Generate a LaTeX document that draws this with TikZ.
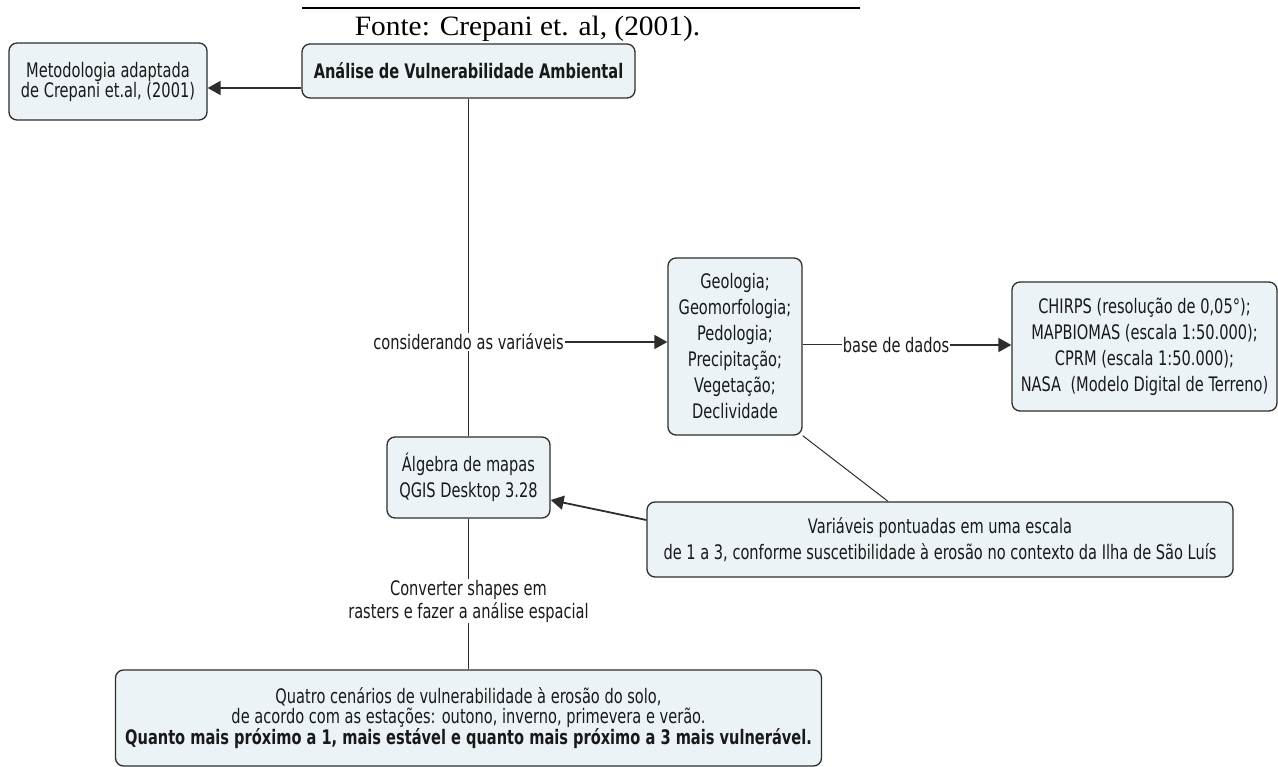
\documentclass[tikz,border=0pt]{standalone}
\usepackage{fontspec}
\setmainfont{DejaVu Sans}[FakeStretch=0.73]
\newfontfamily\fontefont{Liberation Serif}[FakeStretch=1.05]
\usepackage{tikz}
\usetikzlibrary{arrows.meta,positioning}
\definecolor{cmapfill}{RGB}{236,243,246}
\definecolor{cmapline}{RGB}{45,45,45}
\definecolor{cmaptext}{RGB}{25,25,25}

\begin{document}
\begin{tikzpicture}[
    x=1pt, y=-1pt,
    concept/.style={rectangle, draw=cmapline, line width=1.3pt, fill=cmapfill, rounded corners=8pt, align=center, inner sep=0pt, text=cmaptext, font=\fontsize{20}{26}\selectfont},
    tight/.style={font=\fontsize{20}{20}\selectfont},
    linkname/.style={align=center, inner sep=1pt, text=cmaptext, font=\fontsize{20}{23}\selectfont},
    arrow/.style={-{Triangle[length=13pt,width=14pt]}, line width=1.8pt, draw=cmapline},
    link/.style={line width=1pt, draw=cmapline}
]
\useasboundingbox (0,0) rectangle (1278,767);

% Source line
\draw[line width=1.5pt] (302,8) -- (860,8);
\node[anchor=base, inner sep=0pt, font=\fontefont\fontsize{28}{30}\selectfont] (fonte) at (527.5,36) {Fonte: Crepani et. al, (2001).};

% Concepts
\node[concept, tight, minimum width=198pt, minimum height=77pt] (meto) at (108,81.5) {Metodologia adaptada\\de Crepani et.al, (2001)};
\node[concept, minimum width=333pt, minimum height=54pt, font=\fontsize{20}{26}\selectfont\bfseries] (anal) at (468.5,71) {Análise de Vulnerabilidade Ambiental};
\node[concept, minimum width=134pt, minimum height=177pt] (geo) at (735,346.5) {Geologia;\\Geomorfologia;\\Pedologia;\\Precipitação;\\Vegetação;\\Declividade};
\node[concept, minimum width=265pt, minimum height=129pt] (chirps) at (1144.5,346.5) {CHIRPS (resolução de 0,05°);\\MAPBIOMAS (escala 1:50.000);\\CPRM (escala 1:50.000);\\NASA\ \ (Modelo Digital de Terreno)};
\node[concept, minimum width=163pt, minimum height=81pt] (alg) at (468.5,477.5) {Álgebra de mapas\\QGIS Desktop 3.28};
\node[concept, minimum width=586pt, minimum height=75pt] (var) at (940,539.5) {Variáveis pontuadas em uma escala\\de 1 a 3, conforme suscetibilidade à erosão no contexto da Ilha de São Luís};
\node[concept, tight, minimum width=706pt, minimum height=96pt] (quatro) at (468.5,718) {Quatro cenários de vulnerabilidade à erosão do solo,\\de acordo com as estações: outono, inverno, primevera e verão.\\\textbf{Quanto mais próximo a 1, mais estável e quanto mais próximo a 3 mais vulnerável.}};

% Linking phrases
\node[linkname] (cons) at (468.5,342) {considerando as variáveis};
\node[linkname] (base) at (896,345) {base de dados};
\node[linkname] (conv) at (468.5,601) {Converter shapes em\\rasters e fazer a análise espacial};

% Links
\coordinate (metoin) at ([yshift=-6.5pt]meto.east);
\draw[arrow] (metoin -| anal.west) -- (metoin);
\draw[link] (anal.south) -- (cons.north);
\draw[link] (cons.south) -- (alg.north);
\draw[arrow] (cons.east) -- (cons.east -| geo.west);
\draw[link] (base.west -| geo.east) -- (base.west);
\draw[arrow] (base.east) -- (base.east -| chirps.west);
\draw[link] (geo.south east) -- ([xshift=-52pt]var.north);
\draw[arrow] ([yshift=19.5pt]var.west) -- ([yshift=-22.5pt]alg.east);
\draw[link] (alg.south) -- (conv.north);
\draw[link] (conv.south) -- (quatro.north);
\end{tikzpicture}
\end{document}
